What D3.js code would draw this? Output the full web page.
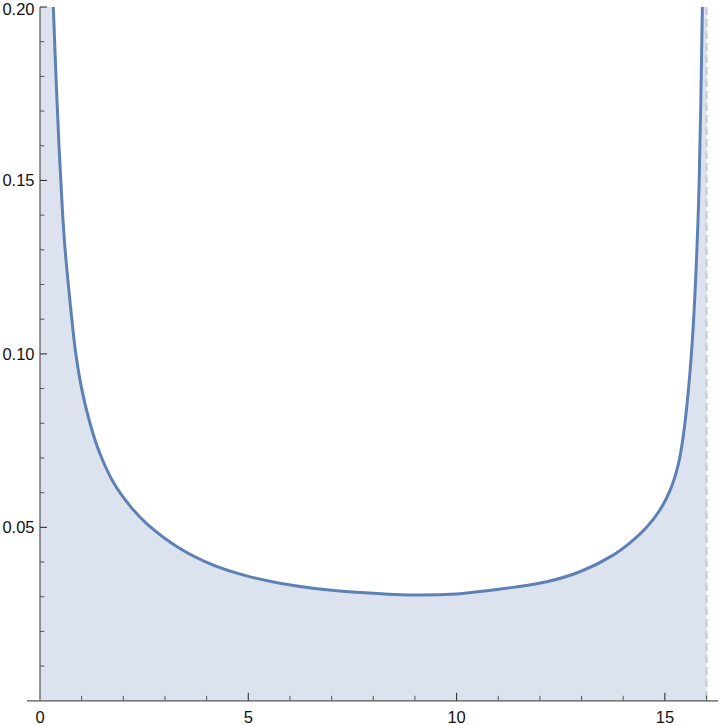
<!DOCTYPE html>
<html>
<head>
<meta charset="utf-8">
<script src="https://cdn.jsdelivr.net/npm/d3@7"></script>
<style>
  html, body { margin: 0; padding: 0; background: #fff; }
  svg { display: block; }
  text { font-family: "Liberation Sans", Arial, sans-serif; }
</style>
</head>
<body>
<script>
// ---- data ----
const curveX = [0.32, 0.384, 0.456, 0.50, 0.54, 0.60, 0.68, 0.76, 0.86, 1.0, 1.2, 1.44, 1.76, 2.16, 2.56, 3.36, 4.16, 4.96, 5.76, 6.6, 7.6, 8.95, 10.0, 10.56, 11.36, 12.16, 12.96, 13.76, 14.16, 14.56, 14.88, 15.12, 15.32, 15.44, 15.56, 15.66, 15.74, 15.82, 15.90];
const curveY = [0.200, 0.180, 0.160, 0.150, 0.141, 0.1305, 0.120, 0.1105, 0.100, 0.090, 0.0800, 0.0712, 0.0630, 0.0562, 0.0511, 0.0439, 0.0391, 0.0360, 0.0339, 0.0324, 0.0313, 0.0305, 0.0308, 0.0315, 0.0327, 0.0343, 0.0372, 0.0420, 0.0455, 0.0500, 0.0550, 0.0605, 0.0680, 0.0762, 0.0890, 0.104, 0.122, 0.148, 0.200];
const supportMin = 0, supportMax = 16;
const xMajorTicks = [0, 5, 10, 15];
const xTickLabels = ["0", "5", "10", "15"];
const xMinorTicks = [1, 2, 3, 4, 6, 7, 8, 9, 11, 12, 13, 14, 16];
const yMajorTicks = [0.05, 0.10, 0.15, 0.20];
const yTickLabels = ["0.05", "0.10", "0.15", "0.20"];
const yMinorTicks = [0.01, 0.02, 0.03, 0.04, 0.06, 0.07, 0.08, 0.09, 0.11, 0.12, 0.13, 0.14, 0.16, 0.17, 0.18, 0.19];
const xDomain = [-0.312, 16.275];
const yDomain = [0, 0.2];

const W = 723, H = 725;
const svg = d3.select("body").append("svg").attr("width", W).attr("height", H);

const x = d3.scaleLinear().domain(xDomain).range([27, 718]);
const y = d3.scaleLinear().domain(yDomain).range([700.8, 7]);

const pts = curveX.map((v, i) => [v, curveY[i]]);

svg.append("clipPath").attr("id", "clip")
  .append("rect").attr("x", 0).attr("y", y(yDomain[1])).attr("width", W).attr("height", y(0) - y(yDomain[1]));

const g = svg.append("g").attr("clip-path", "url(#clip)");

const line = d3.line().x(d => x(d[0])).y(d => y(d[1])).curve(d3.curveCatmullRom.alpha(0.5));
const lineStr = line(pts);

// filled region under the curve over the support
const fillPath = `M${x(supportMin)},${y(0)}L${x(supportMin)},${y(yDomain[1])}L` + lineStr.slice(1) +
  `L${x(supportMax)},${y(yDomain[1])}L${x(supportMax)},${y(0)}Z`;
g.append("path").attr("d", fillPath).attr("fill", "#dce3ee").attr("stroke", "none");

// dashed asymptote line at the upper support bound
g.append("line")
  .attr("x1", x(supportMax)).attr("x2", x(supportMax))
  .attr("y1", y(yDomain[1])).attr("y2", y(0))
  .attr("stroke", "#c8c8c8").attr("stroke-width", 2).attr("stroke-dasharray", "8,4");

g.append("path").attr("d", lineStr).attr("fill", "none")
  .attr("stroke", "#5e81b5").attr("stroke-width", 3).attr("stroke-linejoin", "round");

// axes
const axisColor = "#555";
svg.append("line").attr("x1", x(xDomain[0])).attr("x2", x(xDomain[1]))
  .attr("y1", y(0)).attr("y2", y(0)).attr("stroke", axisColor).attr("stroke-width", 1.2);
svg.append("line").attr("x1", x(0)).attr("x2", x(0))
  .attr("y1", y(0)).attr("y2", y(yDomain[1])).attr("stroke", axisColor).attr("stroke-width", 1.2);

// x ticks
svg.selectAll(".xmaj").data(xMajorTicks.filter(d => d !== 0)).enter().append("line")
  .attr("x1", d => x(d)).attr("x2", d => x(d)).attr("y1", y(0)).attr("y2", y(0) - 8)
  .attr("stroke", "#333").attr("stroke-width", 1.1);
svg.selectAll(".xmin").data(xMinorTicks).enter().append("line")
  .attr("x1", d => x(d)).attr("x2", d => x(d)).attr("y1", y(0)).attr("y2", y(0) - 5)
  .attr("stroke", "#555").attr("stroke-width", 1);
svg.selectAll(".xlab").data(xMajorTicks).enter().append("text")
  .attr("x", d => x(d)).attr("y", 723).attr("text-anchor", "middle")
  .attr("font-size", "16.5px").attr("fill", "#111")
  .text((d, i) => xTickLabels[i]);

// y ticks
svg.selectAll(".ymaj").data(yMajorTicks).enter().append("line")
  .attr("x1", x(0)).attr("x2", x(0) + 7).attr("y1", d => y(d)).attr("y2", d => y(d))
  .attr("stroke", "#333").attr("stroke-width", 1.1);
svg.selectAll(".ymin").data(yMinorTicks).enter().append("line")
  .attr("x1", x(0)).attr("x2", x(0) + 4.3).attr("y1", d => y(d)).attr("y2", d => y(d))
  .attr("stroke", "#555").attr("stroke-width", 1);
svg.selectAll(".ylab").data(yMajorTicks).enter().append("text")
  .attr("x", 34.5).attr("y", d => Math.max(y(d) + 6, 14.5)).attr("text-anchor", "end")
  .attr("font-size", "16.5px").attr("fill", "#111")
  .text((d, i) => yTickLabels[i]);
</script>
</body>
</html>
